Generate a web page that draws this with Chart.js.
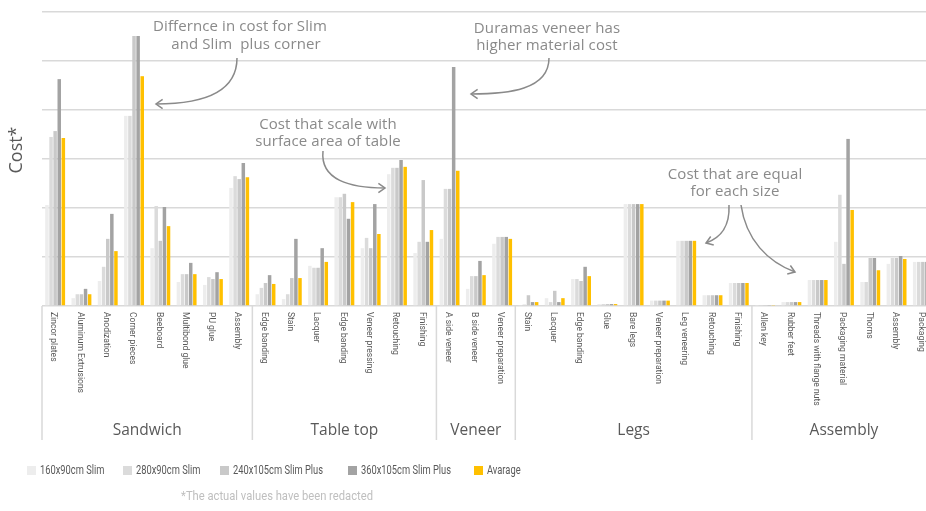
<!DOCTYPE html>
<html>
<head>
<meta charset="utf-8">
<title>Cost breakdown per table size</title>
<script src="https://cdn.jsdelivr.net/npm/chart.js@4/dist/chart.umd.min.js"></script>
<style>
  html, body { margin: 0; padding: 0; overflow: hidden; background: #ffffff; }
  #wrap { width: 940px; height: 511px; }
</style>
</head>
<body>
<div id="wrap"><canvas id="costChart" width="940" height="511"></canvas></div>
<script>
// Cost items, grouped by production stage
const categories = [
  'Zincor plates', 'Aluminum Extrusions', 'Anodization', 'Corner pieces', 'Beeboard', 'Multibond glue', 'PU glue', 'Assembly',
  'Edge banding', 'Stain', 'Lacquer', 'Edge banding', 'Veneer pressing', 'Retouching', 'Finishing',
  'A side veneer', 'B side veneer', 'Veneer preparation',
  'Stain', 'Lacquer', 'Edge banding', 'Glue', 'Bare legs', 'Veneer preparation', 'Leg veneering', 'Retouching', 'Finishing',
  'Allen key', 'Rubber feet', 'Threads with flange nuts', 'Packaging material', 'Thorns', 'Assembly', 'Packaging'
];
const groupNames = ['Sandwich', 'Table top', 'Veneer', 'Legs', 'Assembly'];
const groupSizes = [8, 7, 3, 9, 7];

const seriesNames = ['160x90cm Slim', '280x90cm Slim', '240x105cm Slim Plus', '360x105cm Slim Plus', 'Avarage'];

// Relative cost per item (grid step = 1)
const slim160 = [2.06, 0.16, 0.51, 3.88, 1.18, 0.49, 0.43, 2.41,
                 0.24, 0.14, 0.82, 2.22, 1.18, 2.69, 1.08,
                 1.37, 0.35, 1.27,
                 0.02, 0.16, 0.55, 0.04, 2.08, 0.11, 1.33, 0.22, 0.47,
                 0.01, 0.08, 0.53, 1.31, 0.49, 0.86, 0.90];
const slim280 = [3.45, 0.24, 0.80, 3.88, 2.04, 0.65, 0.59, 2.65,
                 0.37, 0.24, 0.78, 2.22, 1.39, 2.82, 1.31,
                 2.39, 0.61, 1.41,
                 0.03, 0.08, 0.55, 0.04, 2.08, 0.11, 1.33, 0.22, 0.47,
                 0.01, 0.08, 0.53, 2.27, 0.49, 0.98, 0.90];
const plus240 = [3.57, 0.24, 1.37, 5.51, 1.33, 0.65, 0.55, 2.59,
                 0.47, 0.57, 0.78, 2.29, 1.18, 2.82, 2.57,
                 2.39, 0.61, 1.41,
                 0.22, 0.31, 0.51, 0.04, 2.08, 0.11, 1.33, 0.22, 0.47,
                 0.01, 0.08, 0.53, 0.86, 0.98, 0.98, 0.90];
const plus360 = [4.63, 0.35, 1.88, 5.51, 2.02, 0.88, 0.69, 2.92,
                 0.63, 1.37, 1.18, 1.78, 2.08, 2.98, 1.31,
                 4.88, 0.92, 1.41,
                 0.08, 0.08, 0.80, 0.04, 2.08, 0.11, 1.33, 0.22, 0.47,
                 0.01, 0.08, 0.53, 3.41, 0.98, 1.02, 0.90];
const average = [3.43, 0.24, 1.12, 4.69, 1.63, 0.65, 0.55, 2.63,
                 0.45, 0.57, 0.90, 2.12, 1.47, 2.84, 1.55,
                 2.76, 0.63, 1.37,
                 0.08, 0.16, 0.61, 0.04, 2.08, 0.11, 1.33, 0.22, 0.47,
                 0.01, 0.08, 0.53, 1.96, 0.73, 0.96, 0.90];

const seriesValues = [slim160, slim280, plus240, plus360, average];
const seriesColors = ['#ededed', '#dbdbdb', '#c9c9c9', '#a3a3a3', '#ffc000'];

const TEXT = '#595959';
const NOTE = '#8a8a8a';
const RULE = '#d9d9d9';
const WIDE = "'Open Sans', 'DejaVu Sans', sans-serif";
const NARROW = "Roboto, 'Liberation Sans', sans-serif";

// Callout texts with their curved arrows (canvas pixels)
const callouts = [
  { lines: [['Differnce in cost for Slim', 240, 27], ['and Slim  plus corner', 246, 45]],
    arrows: [[[237, 58], [237, 96], [195, 104], [156, 104]]] },
  { lines: [['Duramas veneer has', 547, 29], ['higher material cost', 547, 46]],
    arrows: [[[549, 58], [549, 90], [508, 94], [471, 94]]] },
  { lines: [['Cost that scale with', 328, 125], ['surface area of table', 328, 142]],
    arrows: [[[323, 151], [320, 180], [350, 188], [385, 188]]] },
  { lines: [['Cost that are equal', 735, 175], ['for each size', 735, 192]],
    arrows: [[[729, 205], [730, 228], [720, 238], [706, 243]],
             [[741, 205], [746, 240], [768, 262], [795, 272]]] }
];

const legendX = [27, 123, 220, 348, 474];

// text squeezed horizontally to a condensed width
function condensedText(ctx, text, x, y, squeeze) {
  ctx.save();
  ctx.translate(x, y);
  ctx.scale(squeeze, 1);
  ctx.fillText(text, 0, 0);
  ctx.restore();
}

function drawArrow(ctx, pts) {
  const [p0, c1, c2, p1] = pts;
  ctx.beginPath();
  ctx.moveTo(p0[0], p0[1]);
  ctx.bezierCurveTo(c1[0], c1[1], c2[0], c2[1], p1[0], p1[1]);
  ctx.stroke();
  const ang = Math.atan2(p1[1] - c2[1], p1[0] - c2[0]);
  const len = 8, spread = 0.6;
  ctx.beginPath();
  ctx.moveTo(p1[0] - len * Math.cos(ang - spread), p1[1] - len * Math.sin(ang - spread));
  ctx.lineTo(p1[0], p1[1]);
  ctx.lineTo(p1[0] - len * Math.cos(ang + spread), p1[1] - len * Math.sin(ang + spread));
  ctx.stroke();
}

const decorations = {
  id: 'decorations',
  afterDraw(chart) {
    const ctx = chart.ctx;
    const xs = chart.scales.x;
    const area = chart.chartArea;
    ctx.save();

    // rotated item labels under the axis
    ctx.fillStyle = TEXT;
    ctx.font = '9px ' + NARROW;
    ctx.textAlign = 'left';
    ctx.textBaseline = 'middle';
    categories.forEach((label, i) => {
      ctx.save();
      ctx.translate(xs.getPixelForValue(i) - 1.5, area.bottom + 6);
      ctx.rotate(Math.PI / 2);
      ctx.scale(0.95, 1);
      ctx.fillText(label, 0, 0);
      ctx.restore();
    });

    // group separators and group names
    ctx.strokeStyle = RULE;
    ctx.lineWidth = 1.5;
    ctx.font = '15.5px ' + WIDE;
    ctx.textAlign = 'center';
    let start = 0;
    groupNames.forEach((name, g) => {
      const x0 = xs.getPixelForValue(start - 0.5);
      const x1 = xs.getPixelForValue(start + groupSizes[g] - 0.5);
      ctx.beginPath();
      ctx.moveTo(x0, area.bottom);
      ctx.lineTo(x0, 440);
      ctx.stroke();
      ctx.fillText(name, (x0 + x1) / 2, 431);
      start += groupSizes[g];
    });

    // axis title
    ctx.save();
    ctx.translate(17, 150);
    ctx.rotate(-Math.PI / 2);
    ctx.font = '18px ' + WIDE;
    ctx.fillText('Cost*', 0, 0);
    ctx.restore();

    // legend
    ctx.font = '13.5px ' + NARROW;
    ctx.textAlign = 'left';
    seriesNames.forEach((name, i) => {
      ctx.fillStyle = seriesColors[i];
      ctx.fillRect(legendX[i], 466, 9, 9);
      ctx.fillStyle = TEXT;
      condensedText(ctx, name, legendX[i] + 13, 471, 0.69);
    });

    // footnote
    ctx.fillStyle = '#bfbfbf';
    ctx.font = '13.5px ' + NARROW;
    ctx.textAlign = 'center';
    condensedText(ctx, '*The actual values have been redacted', 277, 497, 0.83);

    // callouts
    ctx.fillStyle = NOTE;
    ctx.strokeStyle = NOTE;
    ctx.lineWidth = 1.5;
    ctx.font = '15px ' + WIDE;
    ctx.letterSpacing = '0.1px';
    callouts.forEach(c => {
      c.lines.forEach(([t, x, y]) => ctx.fillText(t, x, y));
      c.arrows.forEach(a => drawArrow(ctx, a));
    });

    ctx.restore();
  }
};

new Chart(document.getElementById('costChart'), {
  type: 'bar',
  data: {
    labels: categories,
    datasets: seriesNames.map((name, i) => ({
      label: name,
      data: seriesValues[i],
      backgroundColor: seriesColors[i],
      borderWidth: 0,
      barPercentage: 0.85,
      categoryPercentage: 0.78
    }))
  },
  options: {
    responsive: false,
    devicePixelRatio: 1,
    animation: false,
    layout: { padding: { left: 0, right: 4, top: 12, bottom: 205 } },
    plugins: { legend: { display: false }, tooltip: { enabled: false } },
    scales: {
      x: { display: false },
      y: {
        min: 0, max: 6,
        ticks: { display: false, stepSize: 1 },
        grid: { color: RULE, lineWidth: 1.5, drawTicks: false },
        border: { display: false },
        afterFit(scale) { scale.width = 42; }
      }
    }
  },
  plugins: [decorations]
});
</script>
</body>
</html>
